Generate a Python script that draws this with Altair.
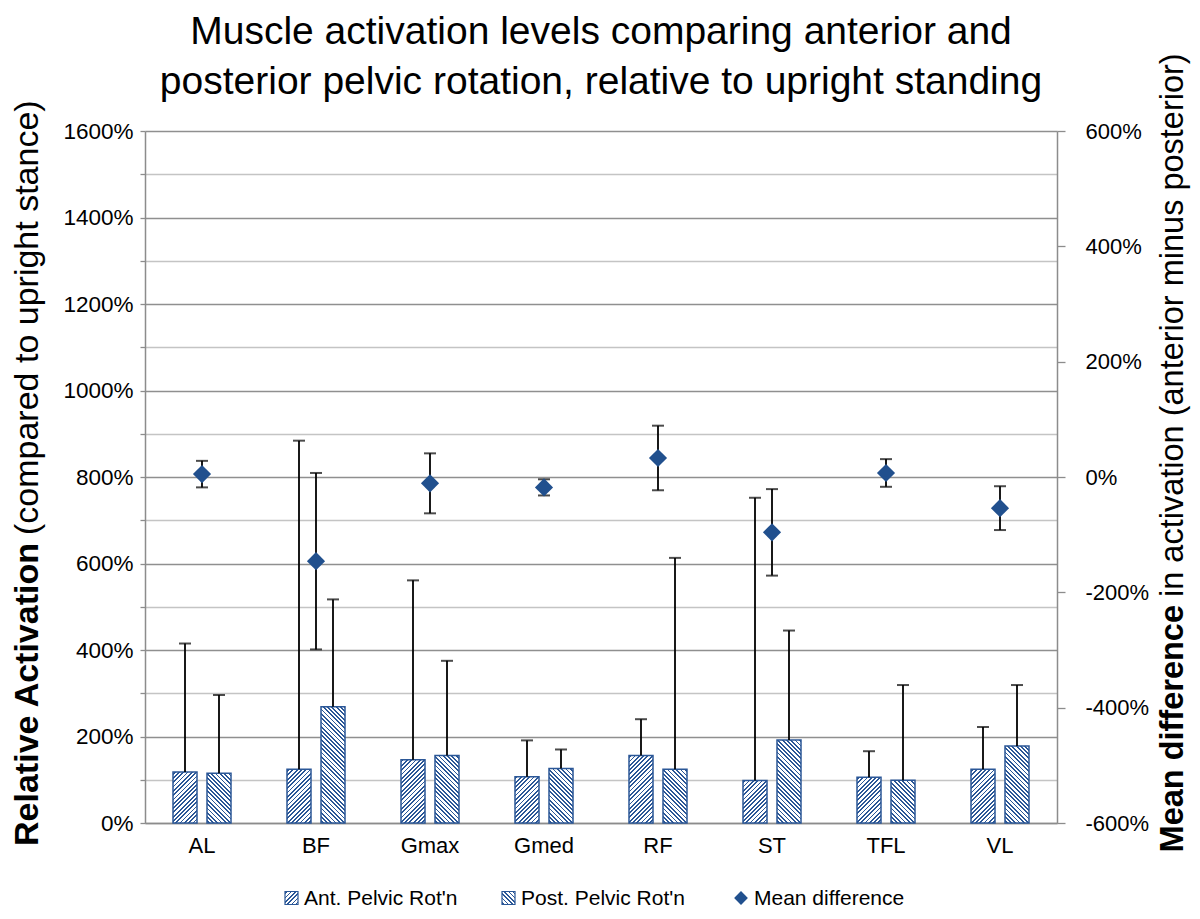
import math
import altair as alt
import pandas as pd

# ---------------- data ----------------
muscles = ["AL", "BF", "Gmax", "Gmed", "RF", "ST", "TFL", "VL"]
series_keys = ["ant", "post"]
series_labels = ["Ant. Pelvic Rot'n", "Post. Pelvic Rot'n", "Mean difference"]

ant_mean = [118, 124, 146, 107, 156, 98, 106, 124]
ant_err = [297, 760, 415, 84, 84, 654, 60, 98]
post_mean = [115, 269, 156, 126, 124, 192, 99, 178]
post_err = [181, 248, 219, 44, 489, 253, 220, 141]
diff_mean = [5, -146, -11, -18, 33, -96, 7, -54]
diff_err = [23, 153, 52, 14, 56, 75, 24, 38]

title_lines = ["Muscle activation levels comparing anterior and",
               "posterior pelvic rotation, relative to upright standing"]
left_title_bold = "Relative Activation"
left_title_rest = "(compared to upright stance)"
right_title_bold = "Mean difference"
right_title_rest = "in activation (anterior minus posterior)"

# ---------------- styling ----------------
FONT = "Liberation Sans"
BLUE = "#2b5797"
DIAMOND = "#21508e"
GRID_DARK = "#8f8f8f"
GRID_LIGHT = "#c4c4c4"
AXIS_GRAY = "#8c8c8c"
W, H = 912, 692
Y_MAX = 1600
BAR_W = 24
GAP = 10
STEP = W / len(muscles)

bars = pd.DataFrame({
    "muscle": muscles * 2,
    "key": ["ant"] * len(muscles) + ["post"] * len(muscles),
    "mean": ant_mean + post_mean,
    "upper": [m + e for m, e in zip(ant_mean, ant_err)] + [m + e for m, e in zip(post_mean, post_err)],
})
diffs = pd.DataFrame({
    "muscle": muscles,
    "diff": diff_mean,
    "lo": [m - e for m, e in zip(diff_mean, diff_err)],
    "hi": [m + e for m, e in zip(diff_mean, diff_err)],
})
one = pd.DataFrame({"a": [0]})


def hatch(w, h, kind, period=4.3, line=1.8):
    """Linear gradient with hard stops that draws 45-degree hatch lines."""
    L = w + h
    c = L * w * h / (w * w + h * h)
    dx, dy = c / h, c / w
    if kind == "/":
        x1, y1, x2, y2 = 0, 0, dx, dy
    else:
        x1, y1, x2, y2 = 0, 1, dx, 1 - dy
    stops = []
    i = 0
    while True:
        a = (i * period + period / 2 - line / 2) / L
        if a >= 1:
            break
        b = min(1.0, a + line / L)
        a = max(0.0, a)
        stops += [(a, "white"), (a, BLUE), (b, BLUE), (b, "white")]
        i += 1
    return alt.LinearGradient(
        gradient="linear",
        stops=[alt.GradientStop(offset=round(o, 5), color=col) for o, col in stops],
        x1=x1, y1=y1, x2=x2, y2=y2,
    )


x_enc = alt.X(
    "muscle:N",
    sort=muscles,
    scale=alt.Scale(domain=muscles, paddingInner=0, paddingOuter=0),
    axis=alt.Axis(title=None, labelAngle=0, ticks=False, domainColor=AXIS_GRAY, domainWidth=1.5,
                  labelFont=FONT, labelFontSize=22, labelColor="black", labelPadding=12),
)
step_off = BAR_W + GAP
p_in = GAP / step_off
p_out = (STEP / step_off - 2 + p_in) / 2
xoff_enc = alt.XOffset("key:N", scale=alt.Scale(domain=series_keys, paddingInner=p_in, paddingOuter=p_out))

left_axis = alt.Axis(
    title=None, orient="left", values=list(range(0, Y_MAX + 1, 100)),
    labelExpr="datum.value % 200 === 0 ? datum.value + '%' : ''",
    labelOverlap=False, labelFlush=False,
    grid=True, gridWidth=1.3,
    gridColor={"condition": {"test": "datum.value % 200 === 0", "value": GRID_DARK}, "value": GRID_LIGHT},
    domainColor=AXIS_GRAY, domainWidth=1.5, tickColor=AXIS_GRAY, tickSize=5, tickWidth=1.3,
    labelFont=FONT, labelFontSize=22.5, labelColor="black", labelPadding=7,
)
left_scale = alt.Scale(domain=[0, Y_MAX], nice=False, zero=True)

right_axis = alt.Axis(
    title=None, orient="right", values=list(range(-600, 601, 200)),
    labelExpr="datum.value + '%'", labelOverlap=False, labelFlush=False, grid=False,
    domainColor=AXIS_GRAY, domainWidth=1.5, tickColor=AXIS_GRAY, tickSize=8, tickWidth=1.3,
    labelFont=FONT, labelFontSize=22, labelColor="black", labelPadding=20,
)
right_scale = alt.Scale(domain=[-600, 600], nice=False, zero=False)

left_layers = []
# hatched bars, one layer per bar so each gets its own hatch gradient
for key, means, kind in (("ant", ant_mean, "/"), ("post", post_mean, "\\")):
    for m, v in zip(muscles, means):
        h = v * H / Y_MAX
        left_layers.append(
            alt.Chart(bars)
            .transform_filter((alt.datum.muscle == m) & (alt.datum.key == key))
            .mark_bar(fill=hatch(BAR_W, h, kind), stroke=BLUE, strokeWidth=1.5)
            .encode(x=x_enc, xOffset=xoff_enc, y=alt.Y("mean:Q", scale=left_scale, axis=left_axis))
        )

left_layers.append(
    alt.Chart(bars).mark_rule(color="black", strokeWidth=1.8).encode(
        x=x_enc, xOffset=xoff_enc,
        y=alt.Y("mean:Q", scale=left_scale, axis=left_axis), y2="upper:Q")
)
left_layers.append(
    alt.Chart(bars).mark_tick(color="black", thickness=2, size=12).encode(
        x=x_enc, xOffset=xoff_enc, y=alt.Y("upper:Q", scale=left_scale, axis=left_axis))
)

# chart title (two lines)
for line, yy in zip(title_lines, (-87, -37)):
    left_layers.append(
        alt.Chart(one).mark_text(text=line, font=FONT, fontSize=39, align="center",
                                 baseline="alphabetic", color="black")
        .encode(x=alt.value(W / 2), y=alt.value(yy))
    )

# axis titles with a bold lead-in
def vtitle(bold, rest, x, join, size):
    return [
        alt.Chart(one).mark_text(text=bold, font=FONT, fontSize=size, fontWeight="bold", angle=270,
                                 align="right", baseline="middle", color="black")
        .encode(x=alt.value(x), y=alt.value(join + 4)),
        alt.Chart(one).mark_text(text=rest, font=FONT, fontSize=size, angle=270,
                                 align="left", baseline="middle", color="black")
        .encode(x=alt.value(x), y=alt.value(join - 4)),
    ]

left_layers += vtitle(left_title_bold, left_title_rest, -117, 408, 34)
left_layers += vtitle(right_title_bold, right_title_rest, 1028, 470, 32.5)

# legend
LEG_Y = 767
left_layers.append(
    alt.Chart(one).mark_rect(fill=hatch(13, 13, "/", period=4.3, line=1.5), stroke=BLUE, strokeWidth=1.2)
    .encode(x=alt.value(140), x2=alt.value(153), y=alt.value(LEG_Y - 6.5), y2=alt.value(LEG_Y + 6.5))
)
left_layers.append(
    alt.Chart(one).mark_rect(fill=hatch(13, 13, "\\", period=4.3, line=1.5), stroke=BLUE, strokeWidth=1.2)
    .encode(x=alt.value(357), x2=alt.value(370), y=alt.value(LEG_Y - 6.5), y2=alt.value(LEG_Y + 6.5))
)
left_layers.append(
    alt.Chart(one).mark_point(shape="diamond", filled=True, size=190, color=DIAMOND, opacity=1)
    .encode(x=alt.value(596), y=alt.value(LEG_Y))
)
for label, xx in zip(series_labels, (159, 376, 609)):
    left_layers.append(
        alt.Chart(one).mark_text(text=label, font=FONT, fontSize=21, align="left",
                                 baseline="middle", color="black")
        .encode(x=alt.value(xx), y=alt.value(LEG_Y + 1))
    )

left = alt.layer(*left_layers)

right = alt.layer(
    alt.Chart(diffs).mark_rule(color="black", strokeWidth=1.8).encode(
        x=x_enc, y=alt.Y("lo:Q", scale=right_scale, axis=right_axis), y2="hi:Q"),
    alt.Chart(diffs).mark_tick(color="black", thickness=2, size=12).encode(
        x=x_enc, y=alt.Y("lo:Q", scale=right_scale, axis=right_axis)),
    alt.Chart(diffs).mark_tick(color="black", thickness=2, size=12).encode(
        x=x_enc, y=alt.Y("hi:Q", scale=right_scale, axis=right_axis)),
    alt.Chart(diffs).mark_point(shape="diamond", filled=True, size=330, color=DIAMOND, opacity=1).encode(
        x=x_enc, y=alt.Y("diff:Q", scale=right_scale, axis=right_axis)),
)

chart = (
    alt.layer(left, right)
    .resolve_scale(y="independent")
    .properties(
        width=W, height=H,
        autosize=alt.AutoSizeParams(type="none"),
        padding={"left": 137, "top": 123, "right": 135, "bottom": 88},
        background="white",
    )
    .configure_view(stroke=None)
)

chart.save("out.html", embed_options={"renderer": "svg", "actions": False})
